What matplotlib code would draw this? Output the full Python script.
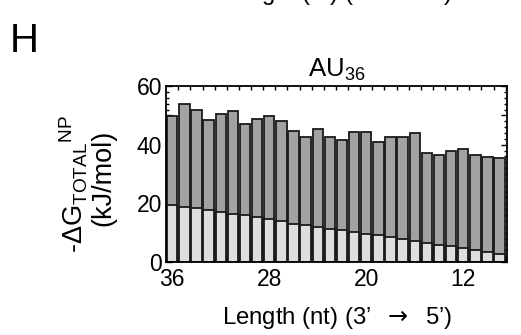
import matplotlib
matplotlib.use("Agg")
import matplotlib.pyplot as plt
from matplotlib.ticker import MultipleLocator, FixedLocator, FuncFormatter

plt.rcParams['font.family'] = ['Liberation Sans', 'DejaVu Sans']
plt.rcParams['mathtext.fontset'] = 'custom'
plt.rcParams['mathtext.rm'] = 'Liberation Sans'
plt.rcParams['mathtext.it'] = 'Liberation Sans'
plt.rcParams['mathtext.sf'] = 'DejaVu Sans'
plt.rcParams['mathtext.default'] = 'regular'

# Strand length (nt), 36 down to 9
lengths = list(range(36, 8, -1))
# Total free energy (kJ/mol)
total = [49.8, 53.8, 51.9, 48.5, 50.4, 51.4, 47.0, 48.7, 49.7, 48.1,
         44.8, 42.6, 45.3, 42.7, 41.7, 44.4, 44.2, 41.0, 42.5, 42.7,
         43.9, 37.1, 36.6, 37.9, 38.5, 36.6, 35.7, 35.3]
# Lower component of the total (kJ/mol)
lower = [19.5, 18.9, 18.3, 17.6, 17.0, 16.4, 15.9, 15.3, 14.5, 13.9,
         13.0, 12.7, 12.0, 11.1, 10.8, 10.2, 9.6, 9.1, 8.4, 7.7,
         7.0, 6.5, 5.9, 5.4, 4.6, 4.0, 3.4, 2.7]
xtick_labels = [36, 28, 20, 12]

XLABEL = r'Length (nt) (3’$\ \ \mathsf{\rightarrow}\ \ $5’)'

fig = plt.figure(figsize=(5.21, 3.35), dpi=100)
ax = fig.add_axes([0.319, 0.218, 0.654, 0.525])

ax.bar(lengths, total, width=0.86, color='#a2a2a2', edgecolor='#1a1a1a',
       linewidth=1.3, zorder=2)
ax.bar(lengths, lower, width=0.86, color='#dedede', edgecolor='#1a1a1a',
       linewidth=1.3, zorder=3)

ax.set_xlim(36.5, 8.4)
ax.set_ylim(0, 60)

ax.xaxis.set_major_locator(FixedLocator(xtick_labels))
ax.xaxis.set_minor_locator(FixedLocator([v + 0.5 for v in range(8, 36)]))
ax.yaxis.set_major_locator(MultipleLocator(10))
ax.yaxis.set_minor_locator(MultipleLocator(2))
ax.yaxis.set_major_formatter(FuncFormatter(
    lambda v, p: f"{int(v)}" if int(round(v)) % 20 == 0 else ""))

ax.tick_params(axis='x', which='major', direction='in', length=0,
               labelsize=16.5, pad=4, top=False)
ax.tick_params(axis='x', which='minor', direction='in', length=3,
               width=1.0, top=True, bottom=True)
ax.tick_params(axis='y', which='major', direction='in', length=4,
               width=1.0, labelsize=16.5, pad=3, right=True)
ax.tick_params(axis='y', which='minor', direction='in', length=2.5,
               width=1.0, right=True)
for s in ax.spines.values():
    s.set_linewidth(1.3)
    s.set_color('black')
    s.set_zorder(5)

ax.set_title(r'AU$_{36}$', fontsize=18.5, pad=7)
ax.set_xlabel(XLABEL, fontsize=17.2, va='top')
ax.xaxis.set_label_coords(0.503, -0.245)

fig.text(0.141, 0.45, r'-$\Delta$G$_{\mathrm{TOTAL}}$$^{\mathrm{NP}}$',
         rotation=90, ha='center', va='center', fontsize=19.5)
fig.text(0.198, 0.47, '(kJ/mol)', rotation=90, ha='center', va='center',
         fontsize=19.5)

fig.text(0.018, 0.845, 'H', fontsize=29, ha='left', va='baseline')

# x label of the panel above, cut at the top edge
fig.text(0.6475, 1.0, XLABEL, fontsize=17.2, ha='center', va='baseline')

fig.savefig('out.png', dpi=100)
